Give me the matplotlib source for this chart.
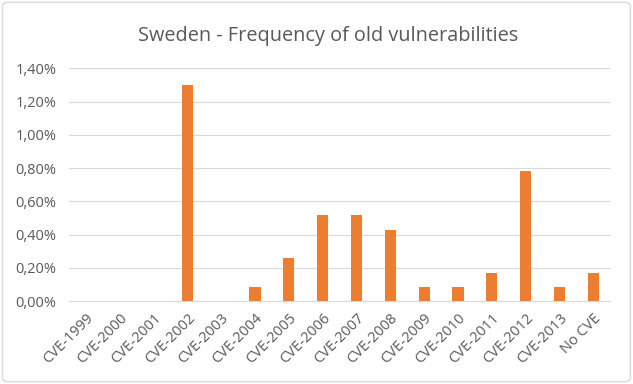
import matplotlib
matplotlib.use("Agg")
import matplotlib.pyplot as plt
from matplotlib.patches import FancyBboxPatch
from matplotlib.ticker import FuncFormatter

# Categories and share of old vulnerabilities (percent)
categories = ["CVE-1999", "CVE-2000", "CVE-2001", "CVE-2002", "CVE-2003",
              "CVE-2004", "CVE-2005", "CVE-2006", "CVE-2007", "CVE-2008",
              "CVE-2009", "CVE-2010", "CVE-2011", "CVE-2012", "CVE-2013",
              "No CVE"]
values = [0.0, 0.0, 0.0, 1.30, 0.0, 0.087, 0.26, 0.52, 0.52, 0.43,
          0.087, 0.087, 0.17, 0.78, 0.087, 0.17]
y_ticks = [0.0, 0.2, 0.4, 0.6, 0.8, 1.0, 1.2, 1.4]

plt.rcParams["font.family"] = ["Open Sans", "DejaVu Sans"]
text_color = "#595959"

fig = plt.figure(figsize=(6.33, 3.84), dpi=100)
# light rounded frame around the whole chart
fig.patches.append(FancyBboxPatch((0.004, 0.006), 0.992, 0.988,
                                  boxstyle="round,pad=0,rounding_size=0.01",
                                  transform=fig.transFigure, facecolor="none",
                                  edgecolor="#d9d9d9", linewidth=1.0, zorder=-1))
ax = fig.add_axes([0.109, 0.216, 0.855, 0.606])

x = range(len(categories))
ax.bar(x, values, width=0.33, color="#ED7D31", zorder=3)

ax.set_xlim(-0.5, len(categories) - 0.5)
ax.set_ylim(0, 1.4)
ax.set_yticks(y_ticks)
ax.yaxis.set_major_formatter(FuncFormatter(lambda v, p: f"{v:.2f}%".replace(".", ",")))
ax.grid(axis="y", color="#d9d9d9", linewidth=0.8, zorder=0)
ax.set_xticks(list(x))
ax.set_xticklabels(categories, rotation=45, ha="right", rotation_mode="anchor")

for side in ["top", "right", "left"]:
    ax.spines[side].set_visible(False)
ax.spines["bottom"].set_color("#d9d9d9")
ax.tick_params(axis="both", length=0, colors=text_color, labelsize=10.5)
ax.tick_params(axis="x", pad=7)
ax.tick_params(axis="y", pad=9)
ax.set_facecolor("none")

fig.text(0.518, 0.905, "Sweden - Frequency of old vulnerabilities",
         ha="center", va="center", fontsize=14.3, color=text_color)

fig.savefig("out.png", dpi=100)
